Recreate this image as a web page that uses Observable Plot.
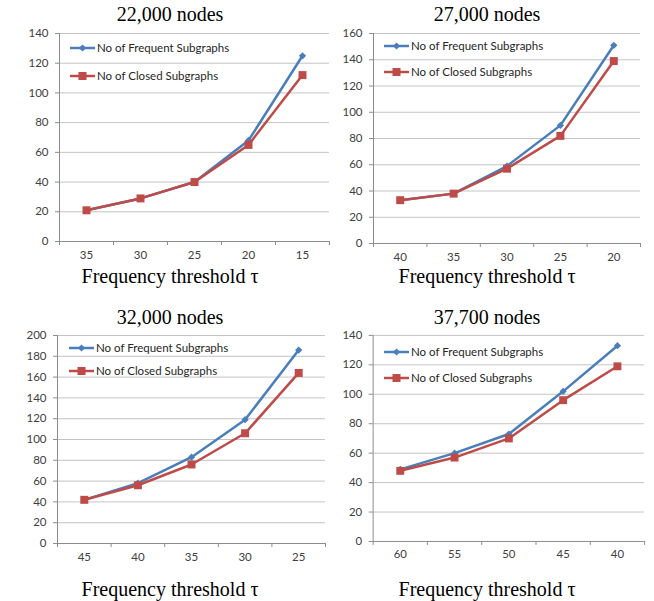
<!DOCTYPE html>
<html><head><meta charset="utf-8">
<script src="https://cdn.jsdelivr.net/npm/d3@7"></script>
<script src="https://cdn.jsdelivr.net/npm/@observablehq/plot@0.6"></script>
<style>
body{margin:0;background:#fff;}
#wrap{position:relative;width:654px;height:601px;overflow:hidden;background:#fff;}
.panel{position:absolute;}
#overlay{position:absolute;left:0;top:0;pointer-events:none;}
</style></head><body><div id="wrap"></div>
<script>
// ---- data ----
const titles = ["22,000 nodes", "27,000 nodes", "32,000 nodes", "37,700 nodes"];
const xLabel = "Frequency threshold τ";
const seriesNames = ["No of Frequent Subgraphs", "No of Closed Subgraphs"];

const thresholds22k = ["35", "30", "25", "20", "15"];
const frequent22k = [21, 29, 40, 68, 125];
const closed22k = [21, 29, 40, 65, 112];

const thresholds27k = ["40", "35", "30", "25", "20"];
const frequent27k = [33, 38, 59, 90, 151];
const closed27k = [33, 38, 57, 82, 139];

const thresholds32k = ["45", "40", "35", "30", "25"];
const frequent32k = [42, 58, 83, 119, 186];
const closed32k = [42, 56, 76, 106, 164];

const thresholds37k = ["60", "55", "50", "45", "40"];
const frequent37k = [49, 60, 73, 102, 133];
const closed37k = [48, 57, 70, 96, 119];

const yMaxes = [140, 160, 200, 140];
const yStep = 20;

// ---- styling / layout ----
const colors = ["#4a7ebb", "#be4b48"];
const axisColor = "#8c8c8c";
const gridColor = "#c4c4c4";
const layouts = [
  {box: {left: 59, right: 329, top: 33, bottom: 241}, titleX: 170, titleY: 21, labelY: 283, legX: 70, legY: [48, 76]},
  {box: {left: 373, right: 640, top: 33, bottom: 243}, titleX: 487, titleY: 21, labelY: 283, legX: 384, legY: [46, 72]},
  {box: {left: 57, right: 325, top: 335, bottom: 543}, titleX: 170, titleY: 324, labelY: 596, legX: 69, legY: [348, 371]},
  {box: {left: 373, right: 647, top: 335, bottom: 543}, titleX: 487, titleY: 324, labelY: 596, legX: 384, legY: [352, 378]}
];
const panelData = [
  [thresholds22k, frequent22k, closed22k],
  [thresholds27k, frequent27k, closed27k],
  [thresholds32k, frequent32k, closed32k],
  [thresholds37k, frequent37k, closed37k]
];

const diamond = {
  draw(context, size) {
    const d = Math.sqrt(size / 2);
    context.moveTo(0, -d); context.lineTo(d, 0); context.lineTo(0, d); context.lineTo(-d, 0); context.closePath();
  }
};

const wrap = document.getElementById("wrap");
const m = {l: 40, r: 10, t: 10, b: 30};

panelData.forEach(([cats, freq, closed], p) => {
  const L = layouts[p], box = L.box, n = cats.length, yMax = yMaxes[p];
  const freqRows = cats.map((c, i) => ({i, value: freq[i]}));
  const closedRows = cats.map((c, i) => ({i, value: closed[i]}));
  const yTicks = d3.range(0, yMax + 1, yStep);
  const chart = Plot.plot({
    width: box.right - box.left + m.l + m.r,
    height: box.bottom - box.top + m.t + m.b,
    marginLeft: m.l, marginRight: m.r, marginTop: m.t, marginBottom: m.b,
    style: {fontFamily: "Lato, 'Open Sans', sans-serif", fontSize: "11.5px", color: "#404040", background: "transparent", overflow: "visible"},
    x: {type: "linear", domain: [-0.5, n - 0.5], axis: null, label: null},
    y: {domain: [0, yMax], axis: null, label: null},
    marks: [
      Plot.ruleY(yTicks.filter(t => t > 0), {stroke: gridColor, strokeWidth: 1}),
      Plot.axisY(yTicks, {label: null, tickSize: 4, tickPadding: 7, stroke: axisColor, fill: "#404040", tickFormat: d => String(d)}),
      Plot.ruleX([-0.5], {stroke: axisColor}),
      Plot.ruleY([0], {stroke: axisColor}),
      Plot.axisX(d3.range(n + 1).map(k => k - 0.5), {label: null, tickSize: 4, stroke: axisColor, tickFormat: () => ""}),
      Plot.axisX(d3.range(n), {label: null, tickSize: 0, tickPadding: 9, fill: "#404040", tickFormat: i => cats[i]}),
      Plot.line(freqRows, {x: "i", y: "value", stroke: colors[0], strokeWidth: 2.5}),
      Plot.dot(freqRows, {x: "i", y: "value", symbol: diamond, r: 2.9, fill: colors[0], stroke: "none"}),
      Plot.line(closedRows, {x: "i", y: "value", stroke: colors[1], strokeWidth: 2.5}),
      Plot.dot(closedRows, {x: "i", y: "value", symbol: "square", r: 4.5, fill: colors[1], stroke: "none"})
    ]
  });
  const div = document.createElement("div");
  div.className = "panel";
  div.style.left = (box.left - m.l) + "px";
  div.style.top = (box.top - m.t) + "px";
  div.appendChild(chart);
  wrap.appendChild(div);
});

// overlay: titles, axis labels, legends
const svg = d3.select(wrap).append("svg").attr("id", "overlay").attr("width", 654).attr("height", 601);
layouts.forEach((L, p) => {
  svg.append("text").attr("x", L.titleX).attr("y", L.titleY).attr("text-anchor", "middle")
    .attr("font-family", "'Liberation Serif', 'Times New Roman', serif").attr("font-size", 20).attr("fill", "#000").text(titles[p]);
  svg.append("text").attr("x", L.titleX).attr("y", L.labelY).attr("text-anchor", "middle")
    .attr("font-family", "'Liberation Serif', 'Times New Roman', serif").attr("font-size", 20).attr("fill", "#000").text(xLabel);
  seriesNames.forEach((name, s) => {
    const y = L.legY[s], x0 = L.legX, x1 = L.legX + 25, cx = (x0 + x1) / 2;
    svg.append("line").attr("x1", x0).attr("x2", x1).attr("y1", y).attr("y2", y).attr("stroke", colors[s]).attr("stroke-width", 2.5);
    if (s === 0) {
      svg.append("path").attr("d", `M${cx},${y - 3.6}L${cx + 3.6},${y}L${cx},${y + 3.6}L${cx - 3.6},${y}Z`).attr("fill", colors[s]);
    } else {
      svg.append("rect").attr("x", cx - 4).attr("y", y - 4).attr("width", 8).attr("height", 8).attr("fill", colors[s]);
    }
    svg.append("text").attr("x", x1 + 2).attr("y", y).attr("dy", "0.35em")
      .attr("font-family", "Lato, 'Open Sans', sans-serif").attr("font-size", 11.5).attr("fill", "#262626").text(name);
  });
});
</script></body></html>
